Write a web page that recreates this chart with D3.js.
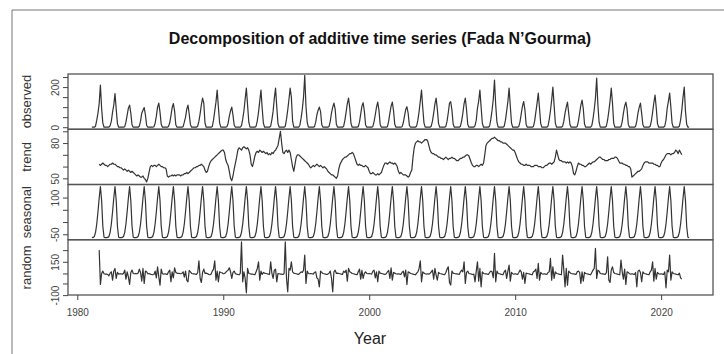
<!DOCTYPE html>
<html>
<head>
<meta charset="utf-8">
<title>Decomposition of additive time series (Fada N'Gourma)</title>
<script src="https://d3js.org/d3.v7.min.js"></script>
<style>
  body { margin: 0; background: #fff; }
  svg text { font-family: 'Liberation Sans', Arial, sans-serif; }
  .line { fill: none; stroke: #333; stroke-width: 1.2; stroke-linejoin: round; }
  .frame { fill: none; stroke: #555; stroke-width: 1.3; }
  .axis path { display: none; }
  .axis line { stroke: #444; }
  .axis text { fill: #444; font-size: 10px; }
</style>
</head>
<body>
<script>
// monthly series start Jan 1981; trend and random start Jul 1981 (centred 12-month MA)
var startYear = 1981;

var observed = [
  0,0,0,5,35,70,118,210,95,20,0,0,      // 1981
  0,0,0,8,30,75,110,168,90,18,0,0,      // 1982
  0,0,0,3,25,60,95,110,70,12,0,0,       // 1983
  0,0,0,5,30,70,85,98,62,10,0,0,        // 1984
  0,0,0,2,20,55,100,120,75,15,0,0,      // 1985
  0,0,0,4,22,58,98,118,80,12,0,0,       // 1986
  0,0,0,3,25,50,90,110,66,14,0,0,       // 1987
  0,0,0,6,30,68,112,145,120,20,0,0,     // 1988
  0,0,0,4,35,80,125,185,100,22,0,0,     // 1989
  0,0,0,2,20,55,82,100,60,10,0,0,       // 1990
  0,0,0,8,40,82,140,195,110,25,0,0,     // 1991
  0,0,0,5,32,75,130,185,95,20,0,0,      // 1992
  0,0,0,6,38,80,145,195,100,18,0,0,     // 1993
  0,0,0,5,40,85,138,195,150,30,0,0,     // 1994
  0,0,0,10,45,90,150,258,105,25,0,0,    // 1995
  0,0,0,3,25,62,85,100,78,12,0,0,       // 1996
  0,0,0,4,30,72,100,120,90,15,0,0,      // 1997
  0,0,0,5,35,75,118,145,95,20,0,0,      // 1998
  0,0,0,3,25,65,105,122,80,12,0,0,      // 1999
  0,0,0,4,28,62,100,125,85,14,0,0,      // 2000
  0,0,0,3,30,70,105,125,82,15,0,0,      // 2001
  0,0,0,2,22,55,88,102,70,10,0,0,       // 2002
  0,0,0,6,35,78,130,185,98,22,0,0,      // 2003
  0,0,0,5,30,70,115,145,90,18,0,0,      // 2004
  0,0,0,4,30,72,120,127,85,16,0,0,      // 2005
  0,0,0,5,32,70,118,145,88,15,0,0,      // 2006
  0,0,0,8,35,95,130,185,100,20,0,0,     // 2007
  0,0,0,6,40,85,140,235,110,25,0,0,     // 2008
  0,0,0,5,35,80,128,195,105,20,0,0,     // 2009
  0,0,0,4,28,68,105,128,88,14,0,0,      // 2010
  0,0,0,4,30,75,120,170,95,18,0,0,      // 2011
  0,0,0,6,38,82,135,200,110,22,0,0,     // 2012
  0,0,0,5,30,70,100,125,70,15,0,0,      // 2013
  0,0,0,4,30,70,110,135,92,16,0,0,      // 2014
  0,0,0,8,42,88,145,245,112,25,0,0,     // 2015
  0,0,0,6,36,80,130,195,120,20,0,0,     // 2016
  0,0,0,3,28,70,105,125,90,14,0,0,      // 2017
  0,0,0,4,30,72,100,120,68,12,0,0,      // 2018
  0,0,0,5,32,75,122,160,95,18,0,0,      // 2019
  0,0,0,6,35,95,130,170,100,20,0,0,     // 2020
  0,0,0,5,35,85,150,200,80,15,0,0       // 2021
];

var trend = [
  62,61,62,63,62,61,                    // 1981 Jul-Dec
  61,60,61,62,62,63,62,62,61,60,60,59,  // 1982
  59,58,57,58,57,56,57,56,55,56,55,54,  // 1983
  53,52,53,52,51,51,52,50,49,47,50,55,  // 1984
  60,61,60,61,61,60,61,62,61,60,60,59,  // 1985
  59,58,52,51,52,52,53,52,53,52,53,53,  // 1986
  53,52,53,53,54,54,55,54,55,56,57,58,  // 1987
  59,59,60,60,61,61,62,61,60,57,55,56,  // 1988
  60,63,65,66,67,68,69,70,71,72,73,74,  // 1989
  74,72,66,63,61,56,50,48,52,58,63,68,  // 1990
  74,76,75,74,76,77,76,75,76,74,70,62,  // 1991
  60,64,69,72,73,72,74,73,72,73,72,71,  // 1992
  72,70,71,70,72,71,73,74,76,78,84,90,  // 1993
  80,72,71,73,74,72,74,72,66,60,56,62,  // 1994
  68,70,70,69,68,67,66,65,64,63,62,60,  // 1995
  59,60,61,60,61,62,61,60,61,60,59,60,  // 1996
  59,58,56,55,54,53,53,52,51,50,52,58,  // 1997
  62,64,66,67,68,68,69,70,71,71,72,71,  // 1998
  68,65,62,61,62,61,61,60,60,61,60,59,  // 1999
  56,54,54,55,54,53,53,54,53,54,55,58,  // 2000
  61,63,63,62,63,64,63,63,62,63,62,60,  // 2001
  56,54,55,54,53,53,53,52,51,52,55,57,  // 2002
  68,76,80,81,82,81,81,80,81,82,83,83,  // 2003
  82,78,74,72,71,71,70,70,69,68,68,67,  // 2004
  67,66,67,68,67,66,67,67,68,67,67,66,  // 2005
  65,65,66,67,67,68,68,69,70,70,69,66,  // 2006
  63,61,60,60,61,61,60,61,62,61,63,70,  // 2007
  78,80,81,82,83,84,84,85,84,83,82,82,  // 2008
  81,81,80,80,80,79,78,77,76,75,74,74,  // 2009
  72,69,66,64,63,62,62,61,61,62,61,61,  // 2010
  61,60,60,60,61,61,61,60,60,60,59,59,  // 2011
  60,61,61,62,63,63,62,63,64,68,74,70,  // 2012
  66,65,65,64,64,64,63,64,63,64,63,60,  // 2013
  54,53,56,60,63,62,62,61,61,60,60,61,  // 2014
  62,63,62,63,64,64,65,66,67,68,68,67,  // 2015
  66,66,65,65,65,66,66,67,67,67,68,68,  // 2016
  67,65,63,63,63,62,62,61,61,60,60,58,  // 2017
  51,52,53,54,55,56,56,57,58,61,63,64,  // 2018
  64,64,63,63,63,63,62,62,61,61,60,60,  // 2019
  63,65,66,68,70,71,71,71,70,71,71,72,  // 2020
  74,73,71,74,72,70                     // 2021 Jan-Jun
];

// seasonal figure, Jan..Dec (repeats every year)
var seasonalFigure = [-64,-63,-59,-42,-8,42,98,145,88,-17,-62,-64];

var random = [
  75,-28,5,12,4,3,                      // 1981 Jul-Dec
  3,2,-2,6,10,-15,12,20,-10,8,3,4,      // 1982
  4,3,5,15,-12,10,-5,-28,8,15,5,4,      // 1983
  5,4,6,18,8,-18,20,-25,12,10,4,5,      // 1984
  3,2,1,2,12,-8,25,-5,-30,18,4,3,       // 1985
  4,3,2,10,15,-20,10,-8,22,8,6,5,       // 1986
  5,4,5,10,-6,12,-15,-20,14,10,5,4,     // 1987
  4,3,2,8,43,-10,-22,8,18,5,6,5,        // 1988
  2,1,3,12,18,43,-15,12,-20,10,8,7,     // 1989
  4,5,8,12,15,22,10,-10,8,12,4,3,       // 1990
  2,1,5,100,-20,10,-10,-53,20,5,4,3,    // 1991
  3,2,1,10,20,40,-15,12,2,8,6,5,        // 1992
  4,3,2,40,5,-10,15,18,-20,5,4,3,       // 1993
  3,2,4,100,-10,-50,20,15,40,10,6,5,    // 1994
  4,3,2,6,10,8,15,60,-25,12,5,4,        // 1995
  5,4,3,8,10,-8,-12,-35,12,8,5,4,       // 1996
  3,2,3,6,12,-10,-50,10,15,5,6,5,       // 1997
  4,3,2,12,8,15,-18,20,10,8,5,4,        // 1998
  3,2,1,10,18,-12,14,-10,5,10,5,4,      // 1999
  5,4,3,12,15,-8,10,-20,12,6,5,4,       // 2000
  3,2,4,10,14,-10,22,-15,8,6,4,3,       // 2001
  4,3,2,8,12,-5,15,-28,10,8,5,4,        // 2002
  3,2,1,6,10,20,43,-20,10,6,4,3,        // 2003
  4,3,5,10,15,-12,20,0,-15,8,5,4,       // 2004
  3,2,1,8,18,25,-22,-30,12,6,5,4,       // 2005
  4,3,2,10,15,10,40,-25,8,12,5,4,       // 2006
  3,2,3,-20,12,40,-18,20,-35,10,5,4,    // 2007
  4,3,2,8,12,10,-8,65,-20,12,5,4,       // 2008
  3,2,1,10,15,-10,12,30,-18,8,4,3,      // 2009
  4,3,2,8,15,10,-12,8,-25,6,5,4,        // 2010
  3,2,1,10,12,18,-10,35,-15,8,4,3,      // 2011
  4,3,2,8,10,50,-15,25,-10,10,5,4,      // 2012
  3,2,1,60,15,-35,20,-30,12,8,5,4,      // 2013
  4,3,2,10,12,8,-25,10,-18,8,5,4,       // 2014
  3,2,1,8,15,20,80,-10,15,12,5,4,       // 2015
  4,3,2,8,55,-15,-22,15,25,8,5,4,       // 2016
  3,2,1,45,10,-12,18,-28,10,8,4,3,      // 2017
  4,3,2,8,-35,12,15,8,-20,10,5,4,       // 2018
  3,2,1,10,15,40,-18,20,-12,8,4,3,      // 2019
  4,3,2,10,-38,15,10,60,-15,10,5,4,     // 2020
  3,2,1,6,-8,-12                        // 2021 Jan-Jun
];

var xTicks = [1980, 1990, 2000, 2010, 2020];

// y tick marks per panel and the labels printed on them
var obsTicks = [0, 50, 100, 150, 200, 250];
var obsLabels = { 0: "0", 200: "200" };
var trendTicks = [50, 60, 70, 80, 90];
var trendLabels = { 50: "50", 80: "80" };
var seasTicks = [-50, 0, 50, 100];
var seasLabels = { "-50": "-50", 100: "100" };
var randTicks = [-60, -25, 5, 40, 75];
var randLabels = { "-60": "-100", 40: "150" };

var title = "Decomposition of additive time series (Fada N\u2019Gourma)";

var W = 724, H = 354;
var mLeft = 68, mRight = 713, mTop = 74, mBottom = 295;
var panelH = (mBottom - mTop) / 4;

var svg = d3.select("body").append("svg")
    .attr("width", W)
    .attr("height", H);

// thin border of the figure
svg.append("path")
    .attr("d", "M12," + H + "V10H" + W)
    .attr("fill", "none")
    .attr("stroke", "#777")
    .attr("stroke-width", 1);

var seasonal = observed.map(function (d, i) { return seasonalFigure[i % 12]; });

function toPoints(arr, offset) {
    return arr.map(function (v, i) { return { t: startYear + (i + offset) / 12, v: v }; });
}

var panels = [
    { name: "observed", pts: toPoints(observed, 0), dom: [0, 255], ticks: obsTicks, labels: obsLabels },
    { name: "trend", pts: toPoints(trend, 6), dom: [46.5, 90], ticks: trendTicks, labels: trendLabels },
    { name: "seasonal", pts: toPoints(seasonal, 0), dom: [-64, 145], ticks: seasTicks, labels: seasLabels },
    { name: "random", pts: toPoints(random, 6), dom: [-53.5, 100], ticks: randTicks, labels: randLabels }
];

// R style: range of data padded by 4%
var tMin = startYear, tMax = startYear + (observed.length - 1) / 12;
var pad = (tMax - tMin) * 0.04;
var x = d3.scaleLinear().domain([tMin - pad, tMax + pad]).range([mLeft, mRight]);

panels.forEach(function (p, k) {
    var y0 = mTop + k * panelH, y1 = y0 + panelH;
    var ext = (p.dom[1] - p.dom[0]) * 0.04;
    var y = d3.scaleLinear().domain([p.dom[0] - ext, p.dom[1] + ext]).range([y1, y0]);

    var g = svg.append("g");

    g.append("path")
        .datum(p.pts)
        .attr("class", "line")
        .attr("d", d3.line().x(function (d) { return x(d.t); }).y(function (d) { return y(d.v); }));

    g.append("rect")
        .attr("class", "frame")
        .attr("x", mLeft).attr("y", y0)
        .attr("width", mRight - mLeft).attr("height", panelH);

    var ax = g.append("g")
        .attr("class", "axis")
        .attr("transform", "translate(" + mLeft + ",0)")
        .call(d3.axisLeft(y).tickValues(p.ticks).tickSize(5)
            .tickFormat(function (d) { return p.labels[d] || ""; }));
    ax.selectAll("text")
        .attr("x", null).attr("dy", null)
        .attr("text-anchor", "middle")
        .attr("transform", "translate(-9,0) rotate(-90)");

    svg.append("text")
        .attr("transform", "translate(31," + (y0 + panelH / 2) + ") rotate(-90)")
        .attr("text-anchor", "middle")
        .attr("font-size", "13px")
        .attr("fill", "#333")
        .text(p.name);
});

var xa = svg.append("g")
    .attr("class", "axis")
    .attr("transform", "translate(0," + mBottom + ")")
    .call(d3.axisBottom(x).tickValues(xTicks).tickSize(5).tickFormat(d3.format("d")));
xa.selectAll("text").attr("y", 14);

svg.append("text")
    .attr("x", 370)
    .attr("y", 344)
    .attr("text-anchor", "middle")
    .attr("font-size", "16px")
    .attr("fill", "#222")
    .text("Year");

svg.append("text")
    .attr("x", 380)
    .attr("y", 44)
    .attr("text-anchor", "middle")
    .attr("font-size", "16px")
    .attr("font-weight", "bold")
    .attr("fill", "#111")
    .text(title);
</script>
</body>
</html>
